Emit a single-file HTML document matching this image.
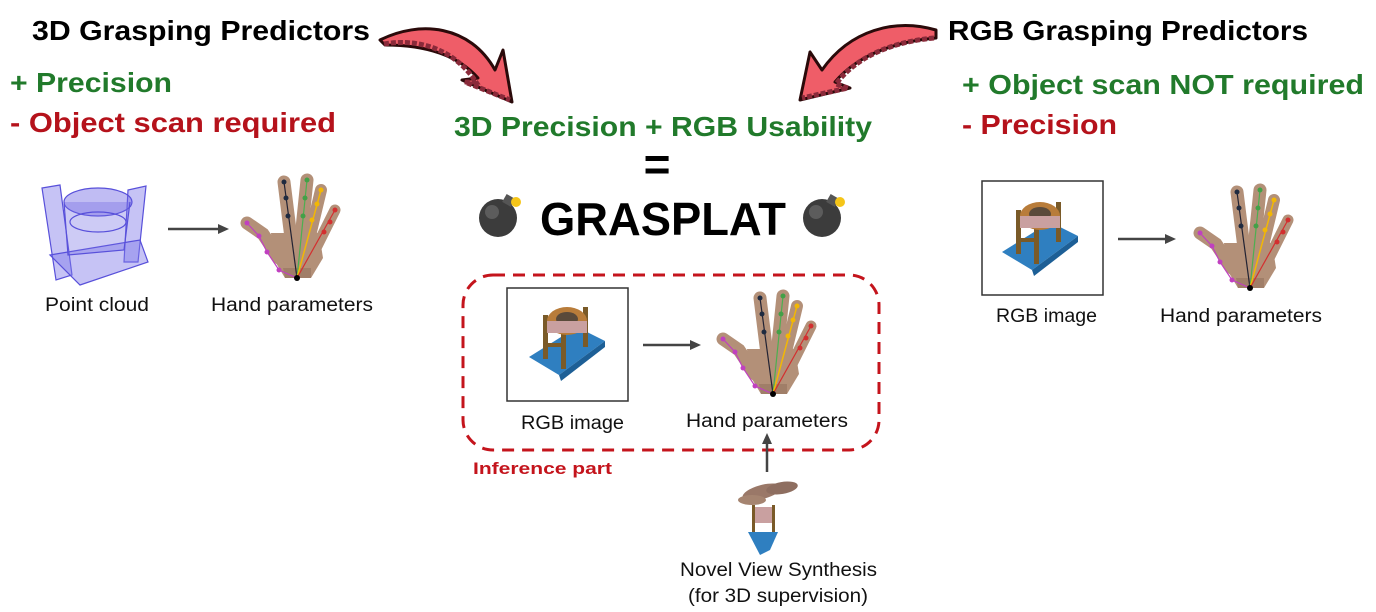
<!DOCTYPE html>
<html><head><meta charset="utf-8"><style>
html,body{margin:0;padding:0;background:#fff;}
svg{display:block;font-family:"Liberation Sans","DejaVu Sans",sans-serif;}
</style></head><body>
<svg width="1376" height="612" viewBox="0 0 1376 612" xmlns="http://www.w3.org/2000/svg">
<defs>
 <g id="hand">
  <g stroke="#b39078" stroke-linecap="round" fill="none">
   <path d="M-6,-40 L-13,-96" stroke-width="13"/>
   <path d="M4,-40 L10,-98" stroke-width="13"/>
   <path d="M12,-38 L24,-88" stroke-width="12"/>
   <path d="M18,-28 L38,-68" stroke-width="11"/>
   <path d="M-18,-20 L-34,-44 L-50,-55" stroke-width="13"/>
  </g>
  <path d="M-26,-45 L22,-45 L26,-20 L14,0 L-12,0 L-24,-20 Z" fill="#b39078"/>
  <path d="M-12,0 L-14,-10 L14,-10 L14,0Z" fill="#a07e68"/>
  <path d="M0,0 L-13,-96" stroke="#223" stroke-width="1.2"/>
  <path d="M0,0 L10,-98" stroke="#4caf50" stroke-width="1.2"/>
  <path d="M0,0 L24,-88" stroke="#f2b705" stroke-width="1.5"/>
  <path d="M0,0 L38,-68" stroke="#d32f2f" stroke-width="1.2"/>
  <path d="M0,0 L-18,-8 L-30,-26 L-38,-42 L-50,-55" stroke="#c040c0" stroke-width="1.2" fill="none"/>
  <g fill="#1e2a40"><circle cx="-13" cy="-96" r="2.5"/><circle cx="-11" cy="-80" r="2.5"/><circle cx="-9" cy="-62" r="2.5"/></g>
  <g fill="#43a047"><circle cx="10" cy="-98" r="2.5"/><circle cx="8" cy="-80" r="2.5"/><circle cx="6" cy="-62" r="2.5"/></g>
  <g fill="#f2b705"><circle cx="24" cy="-88" r="2.5"/><circle cx="20" cy="-74" r="2.5"/><circle cx="15" cy="-58" r="2.5"/></g>
  <g fill="#d32f2f"><circle cx="38" cy="-68" r="2.5"/><circle cx="33" cy="-56" r="2.5"/><circle cx="27" cy="-46" r="2.5"/></g>
  <g fill="#c040c0"><circle cx="-50" cy="-55" r="2.5"/><circle cx="-38" cy="-42" r="2.5"/><circle cx="-30" cy="-26" r="2.5"/><circle cx="-18" cy="-8" r="2.5"/></g>
  <circle cx="0" cy="0" r="3" fill="#000"/>
 </g>
 <g id="obj">
  <path d="M-38,22 L10,-8 L38,6 L-8,40 Z" fill="#2f7fc0"/>
  <path d="M-8,40 L38,6 L38,12 L-6,46Z" fill="#1d5f96"/>
  <rect x="-24" y="-20" width="5" height="44" fill="#7a5a28"/>
  <rect x="16" y="-28" width="5" height="40" fill="#7a5a28"/>
  <rect x="-6" y="-14" width="5" height="48" fill="#7a5a28"/>
  <rect x="-24" y="8" width="20" height="4" fill="#7a5a28"/>
  <ellipse cx="0" cy="-14" rx="20" ry="14" fill="#b87c3a"/>
  <ellipse cx="0" cy="-16" rx="11" ry="7" fill="#5a4a3a"/>
  <rect x="-20" y="-14" width="40" height="12" fill="#c9a0a0"/>
 </g>
 <g id="bomb">
  <circle cx="0" cy="0" r="19" fill="#3c3c3c"/>
  <circle cx="-6" cy="-6" r="7" fill="#6a6a6a" opacity=".7"/>
  <rect x="6" y="-22" width="10" height="9" fill="#555" transform="rotate(30 11 -18)"/>
  <circle cx="18" cy="-16" r="5" fill="#f5c518"/>
 </g>
</defs>

<!-- headers -->
<text x="32" y="40" font-size="28" font-weight="bold" fill="#000" textLength="338" lengthAdjust="spacingAndGlyphs">3D Grasping Predictors</text>
<text x="10" y="92" font-size="28" font-weight="bold" fill="#217a2b" textLength="162" lengthAdjust="spacingAndGlyphs">+ Precision</text>
<text x="10" y="132" font-size="28" font-weight="bold" fill="#b5121b" textLength="326" lengthAdjust="spacingAndGlyphs">- Object scan required</text>
<text x="948" y="40" font-size="28" font-weight="bold" fill="#000" textLength="360" lengthAdjust="spacingAndGlyphs">RGB Grasping Predictors</text>
<text x="962" y="94" font-size="28" font-weight="bold" fill="#217a2b" textLength="402" lengthAdjust="spacingAndGlyphs">+ Object scan NOT required</text>
<text x="962" y="134" font-size="28" font-weight="bold" fill="#b5121b" textLength="155" lengthAdjust="spacingAndGlyphs">- Precision</text>

<!-- red curved arrows -->
<path d="M380,40 C420,20 470,25 495,70 L503,50 L512,102 L462,80 L478,78 C455,52 420,45 385,45 Z" fill="#ef5d68" stroke="#2a0a0a" stroke-width="3" stroke-linejoin="round"/>
<path d="M384,44 C420,38 455,50 476,82 L465,82 L510,100" fill="none" stroke="#8a2a3a" stroke-width="5" stroke-dasharray="5,2"/>
<path d="M936,30 C895,18 850,30 822,70 L810,52 L800,100 L850,88 L835,82 C855,58 890,42 936,38 Z" fill="#ef5d68" stroke="#2a0a0a" stroke-width="3" stroke-linejoin="round"/>
<path d="M934,38 C890,42 855,58 836,84 L848,88 L802,98" fill="none" stroke="#8a2a3a" stroke-width="5" stroke-dasharray="5,2"/>

<!-- center -->
<text x="454" y="136" font-size="28" font-weight="bold" fill="#217a2b" textLength="418" lengthAdjust="spacingAndGlyphs">3D Precision + RGB Usability</text>
<text x="657" y="180" font-size="46" font-weight="bold" fill="#000" text-anchor="middle">=</text>
<text x="540" y="235" font-size="46" font-weight="bold" fill="#000" textLength="246" lengthAdjust="spacingAndGlyphs">GRASPLAT</text>
<use href="#bomb" x="498" y="218"/>
<use href="#bomb" x="822" y="218"/>

<!-- dashed box -->
<rect x="463" y="275" width="416" height="175" rx="30" fill="none" stroke="#c4141c" stroke-width="3" stroke-dasharray="12,8"/>
<rect x="507" y="288" width="121" height="113" fill="#fff" stroke="#333" stroke-width="1.5"/>
<use href="#obj" x="567" y="335"/>
<line x1="643" y1="345" x2="692" y2="345" stroke="#444" stroke-width="2.5"/>
<path d="M701,345 L690,340 L690,350Z" fill="#444"/>
<use href="#hand" x="773" y="394"/>
<text x="521" y="429" font-size="19" fill="#111" textLength="103" lengthAdjust="spacingAndGlyphs">RGB image</text>
<text x="686" y="427" font-size="19" fill="#111" textLength="162" lengthAdjust="spacingAndGlyphs">Hand parameters</text>
<text x="473" y="474" font-size="17" font-weight="bold" fill="#c4141c" textLength="139" lengthAdjust="spacingAndGlyphs">Inference part</text>
<line x1="767" y1="472" x2="767" y2="442" stroke="#444" stroke-width="2.5"/>
<path d="M767,433 L762,444 L772,444Z" fill="#444"/>
<!-- novel view -->
<g>
 <ellipse cx="762" cy="492" rx="20" ry="7" fill="#9a7868" transform="rotate(-15 762 492)"/>
 <ellipse cx="782" cy="488" rx="16" ry="6" fill="#8e6e60" transform="rotate(-10 782 488)"/>
 <ellipse cx="752" cy="500" rx="14" ry="5" fill="#a58470"/>
 <rect x="754" y="507" width="18" height="16" fill="#c9a0a0"/>
 <rect x="752" y="505" width="3" height="30" fill="#7a5a28"/>
 <rect x="772" y="505" width="3" height="30" fill="#7a5a28"/>
 <path d="M748,532 L778,532 L770,550 L760,555 Z" fill="#2f7fc0"/>
</g>
<text x="680" y="576" font-size="19" fill="#111" textLength="197" lengthAdjust="spacingAndGlyphs">Novel View Synthesis</text>
<text x="688" y="602" font-size="19" fill="#111" textLength="180" lengthAdjust="spacingAndGlyphs">(for 3D supervision)</text>

<!-- left -->
<g fill="none" stroke="#3b32d4" stroke-width="1.2" opacity="0.85">
 <path d="M42,188 L60,185 L72,275 L56,280 Z" fill="#6b63e6" fill-opacity=".45"/>
 <path d="M128,190 L146,186 L138,262 L124,262 Z" fill="#6b63e6" fill-opacity=".45"/>
 <path d="M50,255 L140,240 L148,262 L80,285 Z" fill="#6b63e6" fill-opacity=".45"/>
 <ellipse cx="98" cy="202" rx="34" ry="14" fill="#5a50e0" fill-opacity=".45"/>
 <path d="M64,202 L68,255 L124,250 L130,202" fill="#5a50e0" fill-opacity=".35"/>
 <ellipse cx="98" cy="222" rx="28" ry="10"/>
</g>
<line x1="168" y1="229" x2="220" y2="229" stroke="#444" stroke-width="2.5"/>
<path d="M229,229 L218,224 L218,234Z" fill="#444"/>
<use href="#hand" x="297" y="278"/>
<text x="45" y="311" font-size="19" fill="#111" textLength="104" lengthAdjust="spacingAndGlyphs">Point cloud</text>
<text x="211" y="311" font-size="19" fill="#111" textLength="162" lengthAdjust="spacingAndGlyphs">Hand parameters</text>

<!-- right -->
<rect x="982" y="181" width="121" height="114" fill="#fff" stroke="#333" stroke-width="1.5"/>
<use href="#obj" x="1040" y="230"/>
<line x1="1118" y1="239" x2="1167" y2="239" stroke="#444" stroke-width="2.5"/>
<path d="M1176,239 L1165,234 L1165,244Z" fill="#444"/>
<use href="#hand" x="1250" y="288"/>
<text x="996" y="322" font-size="19" fill="#111" textLength="101" lengthAdjust="spacingAndGlyphs">RGB image</text>
<text x="1160" y="322" font-size="19" fill="#111" textLength="162" lengthAdjust="spacingAndGlyphs">Hand parameters</text>
</svg>
</body></html>
